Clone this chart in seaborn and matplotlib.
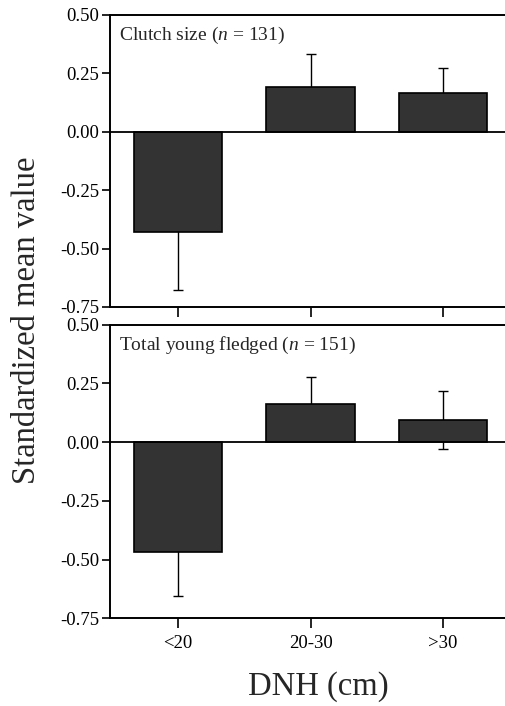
import numpy as np
import pandas as pd
import seaborn as sns
import matplotlib
matplotlib.use("Agg")
import matplotlib.pyplot as plt

# data
categories = ["<20", "20-30", ">30"]
clutch_mean = [-0.43, 0.19, 0.167]
clutch_err = [0.247, 0.143, 0.107]
young_mean = [-0.466, 0.163, 0.096]
young_err = [0.187, 0.114, 0.124]
panel_labels = ["Clutch size ($\\it{n}$ = 131)", "Total young fledged ($\\it{n}$ = 151)"]
ytick_vals = [0.5, 0.25, 0.0, -0.25, -0.5, -0.75]

sns.set_style("ticks")
plt.rcParams['font.family'] = ['Liberation Serif', 'DejaVu Serif']
plt.rcParams['mathtext.fontset'] = 'custom'
plt.rcParams['mathtext.rm'] = 'Liberation Serif'
plt.rcParams['mathtext.it'] = 'Liberation Serif:italic'

fig = plt.figure(figsize=(5.06, 7.06), dpi=100)
ax1 = fig.add_axes([0.2174, 0.5652, 0.7826, 0.4136])
ax2 = fig.add_axes([0.2174, 0.1242, 0.7826, 0.4158])

bar_col = "#333333"

for ax, means, errs, lab in zip([ax1, ax2], [clutch_mean, young_mean],
                                [clutch_err, young_err], panel_labels):
    df = pd.DataFrame({"DNH": categories, "value": means})
    sns.barplot(data=df, x="DNH", y="value", ax=ax, color=bar_col,
                saturation=1, width=0.67, edgecolor="black", linewidth=1.2,
                zorder=3, errorbar=None)
    ax.errorbar(x=np.arange(len(categories)), y=means, yerr=errs, fmt="none",
                ecolor="black", elinewidth=1, capsize=3.6, capthick=1, zorder=2)
    ax.axhline(0, color="black", lw=1.3, zorder=4)
    ax.set_ylim(-0.75, 0.5)
    ax.set_xlim(-0.513, 2.475)
    ax.set_yticks(ytick_vals)
    ax.set_yticklabels(["%.2f" % v for v in ytick_vals])
    ax.set_xlabel("")
    ax.set_ylabel("")
    ax.text(0.022, 0.965, lab, transform=ax.transAxes, ha="left", va="top",
            fontsize=14)
    for side in ["left", "bottom", "top"]:
        ax.spines[side].set_linewidth(1.4)
        ax.spines[side].set_color("black")
        ax.spines[side].set_visible(True)
    ax.spines["right"].set_visible(False)
    ax.tick_params(axis="y", direction="out", length=6, width=1.2,
                   labelsize=13.5, pad=2, colors="black")
    ax.tick_params(axis="x", direction="out", length=7, width=1.2,
                   labelsize=13.5, pad=5, colors="black")

ax1.tick_params(axis="x", labelbottom=False)

fig.text(0.053, 0.547, "Standardized mean value", rotation=90,
         ha="center", va="center", fontsize=23.5)
fig.text(0.630, 0.027, "DNH (cm)", ha="center", va="center", fontsize=23.5)

fig.savefig("out.png", dpi=100)
